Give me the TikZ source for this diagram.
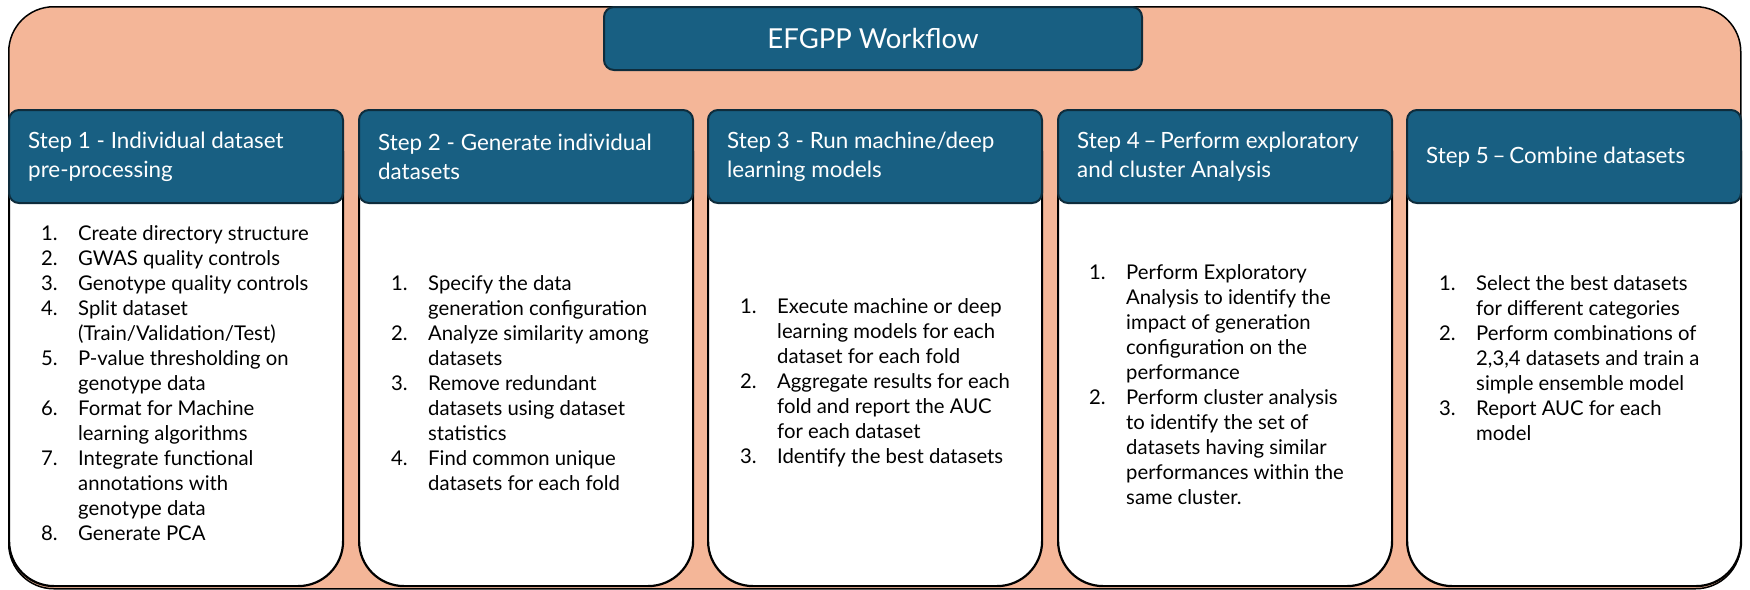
\documentclass[tikz,border=0pt]{standalone}
\usepackage{fontspec}
\setmainfont{Lato}
\definecolor{peach}{HTML}{F4B698}
\definecolor{hblue}{HTML}{185F82}
\definecolor{hborder}{HTML}{0E2C3C}
\newcommand{\itm}[2]{#1 & #2\\}
\newcommand{\cnt}[1]{ & #1\\}
\begin{document}
\begin{tikzpicture}[x=1pt,y=-1pt,
  outerbox/.style={draw=black, line width=1.5pt, fill=peach, rounded corners=45pt, inner sep=0pt, anchor=north west},
  hdr/.style={draw=hborder, line width=2pt, fill=hblue, rounded corners=10pt, inner sep=0pt, anchor=north west, minimum width=334pt, minimum height=93pt},
  body/.style={draw=black, line width=2.2pt, fill=white, rounded corners=45pt, inner sep=0pt, anchor=north west, minimum width=334pt, minimum height=476pt},
  htext/.style={text=white, font=\fontsize{22.4}{29}\selectfont, align=left, anchor=west, inner sep=0pt},
  ttext/.style={text=white, font=\fontsize{27.5}{30}\selectfont},
  ltext/.style={text=black, font=\fontsize{20.3}{25}\selectfont, anchor=base west, inner sep=0pt},
]
\useasboundingbox (0,0) rectangle (1750,589);
\node[outerbox, minimum width=1732pt, minimum height=582pt] (outer) at (8,6) {};
\node[hdr, minimum width=538pt, minimum height=63pt] (title) at (603,6) {};
\node[ttext] (titletext) at (title.center) {EFGPP Workflow};

\foreach \i/\x in {1/8,2/358,3/707,4/1057,5/1406}{
  \node[body] (b\i) at (\x,109) {};
  \node[hdr] (h\i) at (\x,109) {};
}

\node[htext] (t1) at (28,157) {Step 1 - Individual dataset\\pre-processing};
\node[htext] (t2) at (378,157) {Step 2 - Generate individual\\datasets};
\node[htext] (t3) at (727,157) {Step 3 - Run machine/deep\\learning models};
\node[htext] (t4) at (1077,157) {Step 4\,--\,Perform exploratory\\and cluster Analysis};
\node[htext] (t5) at (1426,157) {Step 5\,--\,Combine datasets};

\node[ltext] (l1) at (41,240) {\begin{tabular}[t]{@{}p{37pt}@{}l@{}}
\itm{1.}{Create directory structure}
\itm{2.}{GWAS quality controls}
\itm{3.}{Genotype quality controls}
\itm{4.}{Split dataset}
\cnt{(Train/Validation/Test)}
\itm{5.}{P-value thresholding on}
\cnt{genotype data}
\itm{6.}{Format for Machine}
\cnt{learning algorithms}
\itm{7.}{Integrate functional}
\cnt{annotations with}
\cnt{genotype data}
\itm{8.}{Generate PCA}
\end{tabular}};

\node[ltext] (l2) at (391,290) {\begin{tabular}[t]{@{}p{37pt}@{}l@{}}
\itm{1.}{Specify the data}
\cnt{generation configuration}
\itm{2.}{Analyze similarity among}
\cnt{datasets}
\itm{3.}{Remove redundant}
\cnt{datasets using dataset}
\cnt{statistics}
\itm{4.}{Find common unique}
\cnt{datasets for each fold}
\end{tabular}};

\node[ltext] (l3) at (740,313) {\begin{tabular}[t]{@{}p{37pt}@{}l@{}}
\itm{1.}{Execute machine or deep}
\cnt{learning models for each}
\cnt{dataset for each fold}
\itm{2.}{Aggregate results for each}
\cnt{fold and report the AUC}
\cnt{for each dataset}
\itm{3.}{Identify the best datasets}
\end{tabular}};

\node[ltext] (l4) at (1089,279) {\begin{tabular}[t]{@{}p{37pt}@{}l@{}}
\itm{1.}{Perform Exploratory}
\cnt{Analysis to identify the}
\cnt{impact of generation}
\cnt{configuration on the}
\cnt{performance}
\itm{2.}{Perform cluster analysis}
\cnt{to identify the set of}
\cnt{datasets having similar}
\cnt{performances within the}
\cnt{same cluster.}
\end{tabular}};

\node[ltext] (l5) at (1439,290) {\begin{tabular}[t]{@{}p{37pt}@{}l@{}}
\itm{1.}{Select the best datasets}
\cnt{for different categories}
\itm{2.}{Perform combinations of}
\cnt{2,3,4 datasets and train a}
\cnt{simple ensemble model}
\itm{3.}{Report AUC for each}
\cnt{model}
\end{tabular}};
\end{tikzpicture}
\end{document}
